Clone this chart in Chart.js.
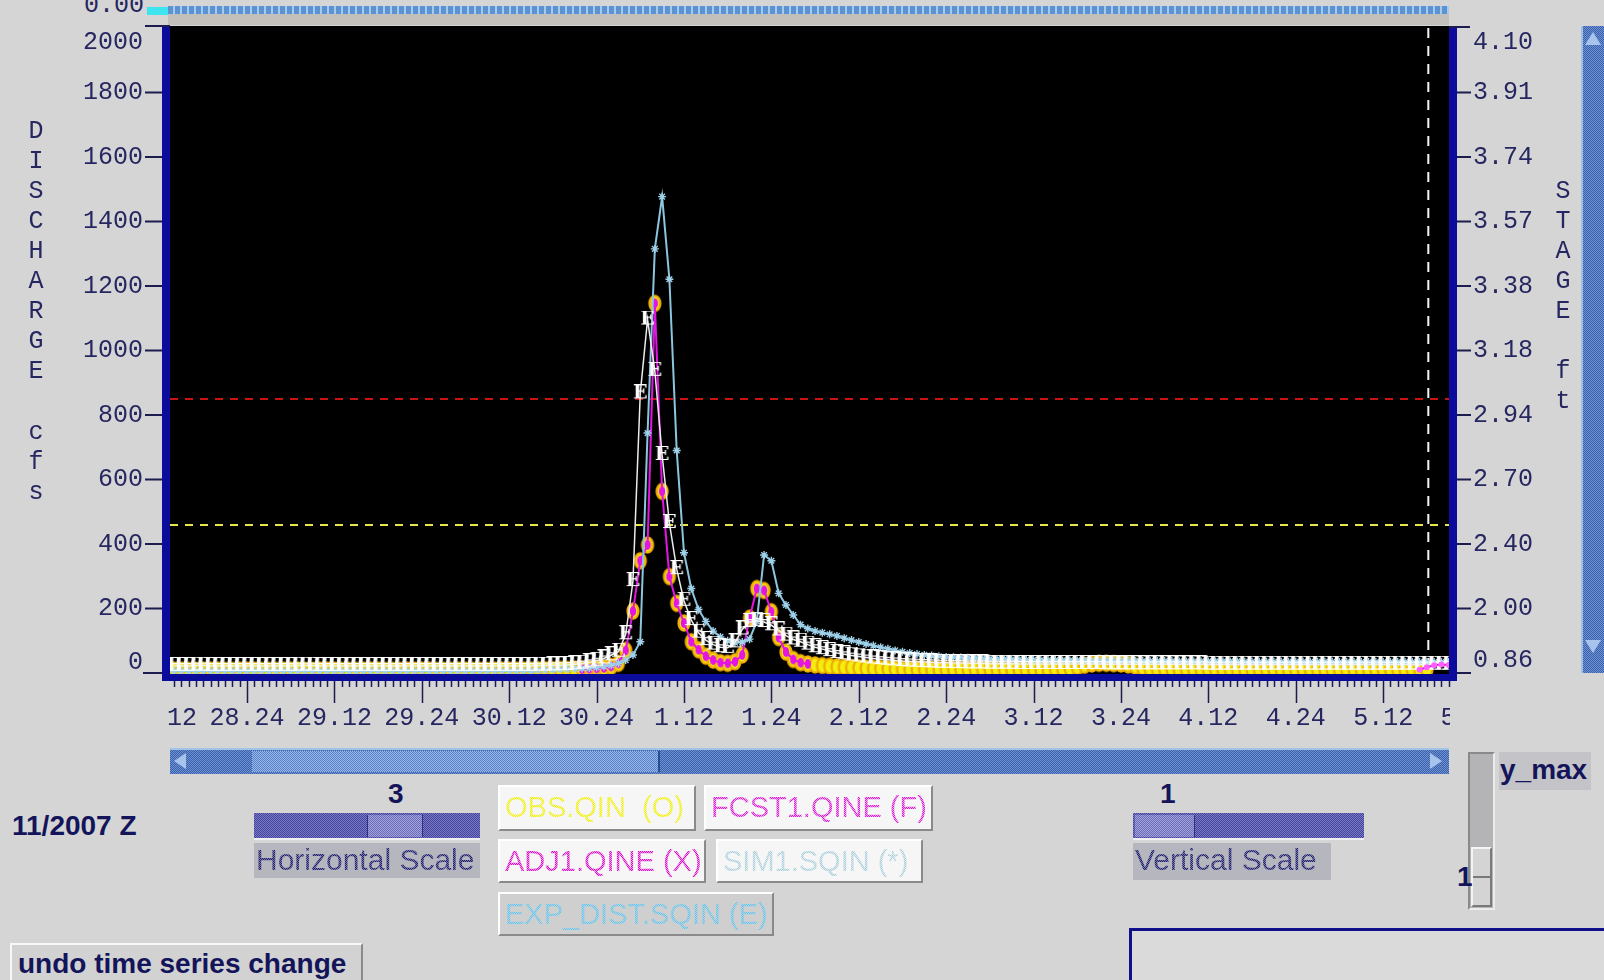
<!DOCTYPE html>
<html>
<head>
<meta charset="utf-8">
<title>Discharge / Stage</title>
<script src="https://cdn.jsdelivr.net/npm/chart.js@4.4.1/dist/chart.umd.min.js"></script>
<style>
  body { margin: 0; width: 1604px; height: 980px; background: #d5d5d5; position: relative; overflow: hidden;
         font-family: "Liberation Sans", Arial, sans-serif; }
  .abs { position: absolute; box-sizing: border-box; }
  #hydroChart { position: absolute; left: 0; top: 0; }
  .blueCheck { background: repeating-conic-gradient(#3b5fa8 0 25%, #6e93d4 0 50%) 0 0/2px 2px; }
  .lightCheck { background: repeating-conic-gradient(#5a80c6 0 25%, #98b8ea 0 50%) 0 0/2px 2px; }
  .purpleCheck { background: repeating-conic-gradient(#43439c 0 25%, #7a7ac6 0 50%) 0 0/2px 2px; }
  .purpleLight { background: repeating-conic-gradient(#6a6ab8 0 25%, #a4a4dc 0 50%) 0 0/2px 2px; }
  .bold { font-weight: bold; color: #14145a; font-size: 28px; }
  .btn { border: 2px solid; border-color: #ffffff #8a8a8a #8a8a8a #ffffff; background: #f6f6f6;
         font-size: 29px; line-height: 40px; padding-left: 5px; white-space: pre; }
  .stip { color: transparent; -webkit-background-clip: text; background-clip: text;
          background-image: repeating-conic-gradient(var(--c) 0 25%, var(--d) 0 50%); background-size: 2px 2px; }
  .lbl { background: #b6b6be; font-size: 30px; line-height: 34px; padding-left: 2px; white-space: pre; }
</style>
</head>
<body>

<!-- top strip -->
<div class="abs" style="left:84px;top:-9px;font:25px 'Liberation Mono',monospace;color:#262660">0.00</div>
<div class="abs" style="left:147px;top:7px;width:21px;height:8px;background:#3de6ee"></div>
<div class="abs" style="left:168px;top:6px;width:1281px;height:8px;background:repeating-linear-gradient(90deg,#5a92d2 0 5px,#a9c9ec 5px 7px)"></div>
<div class="abs" style="left:168px;top:14px;width:1281px;height:11px;background:#c3bfbb"></div>

<!-- right scrollbar -->
<div class="abs blueCheck" style="left:1581px;top:26px;width:23px;height:647px;border-left:2px solid #9cc0e4"></div>
<div class="abs" style="left:1585px;top:32px;width:0;height:0;border-left:8px solid transparent;border-right:8px solid transparent;border-bottom:13px solid #a8c4ec"></div>
<div class="abs" style="left:1585px;top:640px;width:0;height:0;border-left:8px solid transparent;border-right:8px solid transparent;border-top:13px solid #a8c4ec"></div>

<canvas id="hydroChart" width="1604" height="735"></canvas>

<!-- horizontal scrollbar -->
<div class="abs blueCheck" style="left:170px;top:748px;width:1279px;height:26px;border-top:2px solid #a0c4e6"></div>
<div class="abs lightCheck" style="left:252px;top:751px;width:408px;height:21px;border-right:2px solid #2c4c90"></div>
<div class="abs" style="left:174px;top:753px;width:0;height:0;border-top:8px solid transparent;border-bottom:8px solid transparent;border-right:12px solid #a8c4ec"></div>
<div class="abs" style="left:1430px;top:753px;width:0;height:0;border-top:8px solid transparent;border-bottom:8px solid transparent;border-left:12px solid #a8c4ec"></div>

<!-- left controls -->
<div class="abs bold" style="left:12px;top:810px">11/2007 Z</div>
<div class="abs bold" style="left:388px;top:778px">3</div>
<div class="abs purpleCheck" style="left:254px;top:813px;width:226px;height:27px;border-bottom:2px solid #f0f0f0"></div>
<div class="abs purpleLight" style="left:367px;top:815px;width:56px;height:22px;border-left:1px solid #30307a;border-right:1px solid #30307a"></div>
<div class="abs lbl" style="left:254px;top:843px;width:226px;height:35px"><span class="stip" style="--c:#1e1e6a;--d:#7878a8">Horizontal Scale</span></div>

<!-- legend buttons -->
<div class="abs btn" style="left:498px;top:785px;width:198px;height:46px"><span class="stip" style="--c:#eeee00;--d:#f8f8a0">OBS.QIN  (O)</span></div>
<div class="abs btn" style="left:704px;top:785px;width:229px;height:46px"><span class="stip" style="--c:#d820d0;--d:#f0a0ec">FCST1.QINE (F)</span></div>
<div class="abs btn" style="left:498px;top:839px;width:208px;height:44px"><span class="stip" style="--c:#d810c8;--d:#f09ae8">ADJ1.QINE (X)</span></div>
<div class="abs btn" style="left:716px;top:839px;width:207px;height:44px"><span class="stip" style="--c:#a8ccd8;--d:#dcecf0">SIM1.SQIN (*)</span></div>
<div class="abs btn" style="left:498px;top:892px;width:276px;height:44px;background:#cfcfcf"><span class="stip" style="--c:#6cc0e4;--d:#a8d8ec">EXP_DIST.SQIN (E)</span></div>

<!-- right controls -->
<div class="abs bold" style="left:1160px;top:778px">1</div>
<div class="abs purpleCheck" style="left:1133px;top:813px;width:231px;height:27px;border-bottom:2px solid #f0f0f0"></div>
<div class="abs purpleLight" style="left:1135px;top:815px;width:60px;height:22px;border-right:1px solid #30307a"></div>
<div class="abs lbl" style="left:1133px;top:843px;width:198px;height:37px"><span class="stip" style="--c:#1e1e6a;--d:#7878a8">Vertical Scale</span></div>

<div class="abs" style="left:1468px;top:752px;width:27px;height:158px;background:#b4b4b6;border:2px solid;border-color:#8a8a8a #ececec #ececec #8a8a8a"></div>
<div class="abs" style="left:1471px;top:847px;width:21px;height:60px;background:#d4d4d4;border:2px solid;border-color:#f4f4f4 #7a7a7a #7a7a7a #f4f4f4"></div>
<div class="abs" style="left:1473px;top:876px;width:17px;height:2px;background:#7a7a7a"></div>
<div class="abs bold" style="left:1457px;top:861px">1</div>
<div class="abs bold" style="left:1499px;top:752px;width:92px;height:38px;background:#c4c4c8;padding-left:1px;line-height:36px">y_max</div>

<div class="abs" style="left:1129px;top:928px;width:480px;height:60px;border:3px solid #10108a;background:#dadada"></div>
<div class="abs bold" style="left:10px;top:943px;width:353px;height:42px;background:#d2d2d2;border:2px solid;border-color:#f8f8f8 #8a8a8a #8a8a8a #f8f8f8;padding-left:6px;line-height:38px;white-space:pre">undo time series change</div>

<script>
// hours are counted from 28.00Z; one point per hour
const obsStart = 14;
const obsFlow = [
  9, 9, 8, 8, 9, 9, 9, 8, 8, 9,
  9, 9, 8, 8, 8, 9, 9, 9, 8, 8, 9, 9,
  9, 8, 8, 8, 9, 9, 9, 8, 8, 8, 9, 9,
  9, 9, 8, 8, 8, 9, 9, 8, 8, 8, 9, 9,
  9, 9, 9, 9, 10, 10, 10, 11, 11, 12, 12, 13,
  14, 16, 20, 30, 70, 192, 348, 397, 1146, 563, 299, 216,
  155, 97, 72, 52, 40, 32, 30, 35, 56, 170, 262, 256,
  190, 110, 65, 42, 32, 28, 25, 23, 21, 19, 18, 17,
  16, 15, 14, 14, 13, 13, 12, 12, 12, 12, 11, 11,
  11, 11, 11, 11, 11, 11, 11, 10, 10, 10, 10, 10,
  10, 10, 10, 11, 12, 14, 18, 24, 28, 30, 30, 29,
  28, 25, 20, 15, 12, 11, 11, 11, 10, 10, 10, 10,
  10, 10, 10, 10, 10, 10, 10, 10, 10, 10, 10, 10,
  10, 10, 10, 10, 10, 10, 10, 10, 10, 10, 10, 10,
  10, 10, 10, 10, 10, 10, 10
];

const adjStart = 70;
const adjFlow = [
  12, 13,
  14, 16, 20, 30, 70, 192, 348, 397, 1146, 563, 299, 216,
  155, 97, 72, 52, 40, 32, 30, 35, 56, 170, 262, 256,
  190, 110, 65, 42, 32, 28
];

const simStart = 14;
const simFlow = [
  6, 6, 6, 6, 6, 6, 6, 6, 6, 6,
  6, 6, 6, 6, 6, 6, 6, 6, 6, 6, 6, 6,
  6, 6, 6, 6, 6, 6, 6, 6, 6, 6, 6, 6,
  6, 6, 6, 6, 6, 6, 6, 6, 6, 6, 6, 6,
  6, 6, 7, 7, 8, 9, 10, 11, 12, 13, 14, 15,
  17, 20, 24, 30, 40, 56, 97, 744, 1315, 1477, 1221, 690,
  373, 262, 197, 160, 130, 112, 100, 94, 96, 105, 160, 366,
  348, 247, 211, 180, 150, 138, 130, 125, 120, 115, 108, 102,
  96, 90, 85, 80, 75, 70, 66, 62, 59, 56, 54, 52,
  50, 49, 48, 47, 46, 45, 44, 43, 43, 42, 42, 41,
  41, 40, 40, 40, 39, 39, 39, 39, 38, 38, 38, 38,
  38, 38, 37, 37, 37, 37, 37, 37, 36, 36, 36, 36,
  36, 36, 36, 36, 36, 35, 35, 35, 35, 35, 35, 35,
  35, 35, 35, 35, 35, 35, 34, 34, 34, 34, 34, 34,
  34, 34, 34, 34, 34, 34, 34, 34, 34, 34
];

const expStart = 14;
const expFlow = [
  22, 22, 22, 23, 23, 22, 22, 22, 22, 22,
  22, 22, 22, 22, 22, 22, 22, 23, 23, 23, 22, 22,
  22, 22, 22, 22, 22, 22, 22, 22, 22, 22, 22, 22,
  22, 22, 22, 22, 22, 22, 22, 22, 22, 22, 22, 22,
  22, 22, 22, 22, 23, 23, 24, 24, 25, 27, 29, 33,
  38, 45, 55, 66, 120, 285, 867, 1096, 937, 676, 465, 322,
  224, 164, 125, 102, 88, 80, 78, 95, 135, 158, 162, 158,
  148, 132, 116, 104, 97, 88, 80, 74, 68, 62, 58, 54,
  51, 48, 45, 43, 41, 39, 37, 36, 35, 34, 33, 32,
  32, 31, 31, 30, 30, 30, 29, 29, 29, 29, 28, 28,
  28, 28, 28, 28, 28, 28, 28, 28, 28, 28, 27, 27,
  27, 27, 27, 27, 27, 27, 27, 27, 27, 27, 27, 27,
  26, 26, 26, 26, 26, 26, 26, 26, 26, 26, 26, 26,
  26, 26, 26, 26, 26, 26, 26, 26, 26, 26, 26, 26,
  26, 26, 26, 26, 26, 26, 26, 26, 26, 26
];

const fcstStart = 185;
const fcstFlow = [10, 18, 24, 26, 25];

// axis labels
const timeLabels = ['28.12', '28.24', '29.12', '29.24', '30.12', '30.24', '1.12', '1.24', '2.12',
                    '2.24', '3.12', '3.24', '4.12', '4.24', '5.12', '5.24'];
const flowTicks = [0, 200, 400, 600, 800, 1000, 1200, 1400, 1600, 1800, 2000];
const stageLabels = ['0.86', '2.00', '2.40', '2.70', '2.94', '3.18', '3.38', '3.57', '3.74', '3.91', '4.10'];
const floodFlow = 850;
const actionFlow = 459;
const nowHour = 186.2;

function toPoints(start, values) {
    return values.map((v, i) => ({ x: start + i, y: v }));
}

// "O" marker: yellow ring
const obsMark = document.createElement('canvas');
obsMark.width = 16; obsMark.height = 20;
(function () {
    const c = obsMark.getContext('2d');
    c.beginPath();
    c.ellipse(8, 10, 5.4, 7.6, 0, 0, Math.PI * 2);
    c.fillStyle = '#f4ee10';
    c.fill();
    c.lineWidth = 2.4;
    c.strokeStyle = '#f0b000';
    c.stroke();
})();

// "X" marker of the adjusted series: magenta blob inside the ring
const adjMark = document.createElement('canvas');
adjMark.width = 8; adjMark.height = 12;
(function () {
    const c = adjMark.getContext('2d');
    c.beginPath();
    c.ellipse(4, 6, 3.2, 5, 0, 0, Math.PI * 2);
    c.fillStyle = '#e414e4';
    c.fill();
})();

// "E" marker
const expMark = document.createElement('canvas');
expMark.width = 15; expMark.height = 18;
(function () {
    const c = expMark.getContext('2d');
    c.font = 'bold 19px "DejaVu Serif", "Liberation Serif", serif';
    c.fillStyle = '#ffffff';
    c.textAlign = 'center';
    c.textBaseline = 'middle';
    c.fillText('E', 7.5, 9.5);
})();

const monoFont = '25px "Liberation Mono", "DejaVu Sans Mono", monospace';
const inkColor = '#262660';
const axisBlue = '#0c0c9c';

const framePlugin = {
    id: 'frame',
    beforeDraw(chart) {
        const { ctx, chartArea: a } = chart;
        ctx.save();
        ctx.fillStyle = '#000000';
        ctx.fillRect(a.left, a.top - 2, a.right - a.left, a.bottom - a.top + 3);
        ctx.restore();
    },
    beforeDatasetsDraw(chart) {
        const { ctx, chartArea: a, scales } = chart;
        ctx.save();
        ctx.beginPath();
        ctx.rect(a.left, a.top, a.right - a.left, a.bottom - a.top);
        ctx.clip();
        ctx.lineWidth = 2;
        ctx.setLineDash([8, 7]);
        let y = scales.yL.getPixelForValue(floodFlow);
        ctx.strokeStyle = '#c81414';
        ctx.beginPath(); ctx.moveTo(a.left, y); ctx.lineTo(a.right, y); ctx.stroke();
        y = scales.yL.getPixelForValue(actionFlow);
        ctx.strokeStyle = '#e6e64c';
        ctx.beginPath(); ctx.moveTo(a.left, y); ctx.lineTo(a.right, y); ctx.stroke();
        const x = scales.x.getPixelForValue(nowHour);
        ctx.setLineDash([10, 8]);
        ctx.strokeStyle = '#f4f4f4';
        ctx.beginPath(); ctx.moveTo(x, a.top); ctx.lineTo(x, a.bottom); ctx.stroke();
        ctx.restore();
    },
    afterDraw(chart) {
        const { ctx, chartArea: a, scales } = chart;
        const yS = scales.yL, xS = scales.x;
        ctx.save();

        // blue axis bars
        ctx.fillStyle = axisBlue;
        ctx.fillRect(a.left - 8, a.top - 2, 8, a.bottom - a.top + 10);
        ctx.fillRect(a.right, a.top - 2, 8, a.bottom - a.top + 10);
        ctx.fillRect(a.left - 8, a.bottom + 1, a.right - a.left + 16, 7);

        ctx.strokeStyle = '#1c1c50';
        ctx.lineWidth = 2;
        ctx.beginPath();
        ctx.moveTo(a.left - 25, a.top - 2); ctx.lineTo(a.left, a.top - 2);
        ctx.moveTo(a.right, a.top - 1); ctx.lineTo(a.right + 21, a.top - 1);
        ctx.stroke();

        // y ticks and labels on both sides
        ctx.font = monoFont;
        ctx.fillStyle = inkColor;
        ctx.textBaseline = 'middle';
        flowTicks.forEach((v, i) => {
            const y = yS.getPixelForValue(v);
            let ly = y;
            if (v === flowTicks[flowTicks.length - 1]) ly = y + 14;
            if (v === 0) ly = y - 11;
            ctx.textAlign = 'right';
            ctx.fillText(String(v), a.left - 27, ly);
            ctx.textAlign = 'left';
            ctx.fillText(stageLabels[i], a.right + 24, v === 0 ? y - 13 : ly);
            if (v !== flowTicks[flowTicks.length - 1]) {
                ctx.beginPath();
                ctx.moveTo(a.left - (v === 0 ? 27 : 25), y); ctx.lineTo(a.left - 8, y);
                ctx.moveTo(a.right + 8, y); ctx.lineTo(a.right + 22, y);
                ctx.stroke();
            }
        });

        // x ticks: hourly minor, 12-hourly major
        ctx.lineWidth = 1.5;
        ctx.beginPath();
        for (let t = Math.ceil(xS.min); t <= xS.max; t++) {
            const x = Math.round(xS.getPixelForValue(t)) + 0.5;
            const len = t % 12 === 0 ? 22 : 6;
            ctx.moveTo(x, a.bottom + 8); ctx.lineTo(x, a.bottom + 8 + len);
        }
        ctx.stroke();

        ctx.save();
        ctx.beginPath();
        ctx.rect(a.left - 5, a.bottom, a.right - a.left + 6, 70);
        ctx.clip();
        ctx.textAlign = 'center';
        timeLabels.forEach((lab, i) => {
            const x = xS.getPixelForValue(12 * (i + 1));
            ctx.fillText(lab, x, a.bottom + 45);
        });
        ctx.restore();

        // stacked axis titles
        ctx.textAlign = 'center';
        const leftTitle = 'DISCHARGE cfs';
        const rightTitle = 'STAGE ft';
        for (let i = 0; i < leftTitle.length; i++) ctx.fillText(leftTitle[i], 36, 131 + i * 30.1);
        for (let i = 0; i < rightTitle.length; i++) ctx.fillText(rightTitle[i], 1563, 191 + i * 30.1);
        ctx.restore();
    }
};

const ctx = document.getElementById('hydroChart').getContext('2d');
new Chart(ctx, {
    type: 'line',
    data: {
        datasets: [{
            label: 'OBS.QIN (O)',
            data: toPoints(obsStart, obsFlow),
            yAxisID: 'yL',
            showLine: false,
            pointStyle: obsMark,
            pointRadius: 6,
            order: 5
        }, {
            label: 'ADJ1.QINE (X)',
            data: toPoints(adjStart, adjFlow),
            yAxisID: 'yL',
            borderColor: '#e414e4',
            borderWidth: 2,
            pointStyle: adjMark,
            pointRadius: 4,
            order: 4
        }, {
            label: 'SIM1.SQIN (*)',
            data: toPoints(simStart, simFlow),
            yAxisID: 'yL',
            borderColor: '#8cc6de',
            borderWidth: 2,
            pointStyle: 'star',
            pointRadius: 4,
            pointBorderWidth: 1.4,
            pointBorderColor: '#9fd2ea',
            order: 3
        }, {
            label: 'EXP_DIST.SQIN (E)',
            data: toPoints(expStart, expFlow),
            yAxisID: 'yL',
            borderColor: '#ececec',
            borderWidth: 1.5,
            pointStyle: expMark,
            pointRadius: 6,
            order: 2
        }, {
            label: 'FCST1.QINE (F)',
            data: toPoints(fcstStart, fcstFlow),
            yAxisID: 'yL',
            borderColor: '#e414e4',
            borderWidth: 2,
            pointRadius: 2,
            pointBackgroundColor: '#ff60ff',
            pointBorderColor: '#ff60ff',
            order: 1
        }]
    },
    options: {
        responsive: false,
        animation: false,
        events: [],
        layout: { padding: { top: 28, left: 0, right: 0, bottom: 0 } },
        datasets: { line: { tension: 0, clip: { left: 0, top: 0, right: 0, bottom: 1 } } },
        plugins: { legend: { display: false }, tooltip: { enabled: false } },
        scales: {
            x: {
                type: 'linear',
                min: 13.43,
                max: 189.04,
                ticks: { display: false },
                grid: { display: false },
                border: { display: false },
                afterFit: (scale) => { scale.height = 62; }
            },
            yL: {
                position: 'left',
                min: 0,
                max: 2000,
                ticks: { display: false },
                grid: { display: false },
                border: { display: false },
                afterFit: (scale) => { scale.width = 170; }
            },
            yR: {
                position: 'right',
                min: 0,
                max: 2000,
                ticks: { display: false },
                grid: { display: false },
                border: { display: false },
                afterFit: (scale) => { scale.width = 155; }
            }
        }
    },
    plugins: [framePlugin]
});
</script>
</body>
</html>
